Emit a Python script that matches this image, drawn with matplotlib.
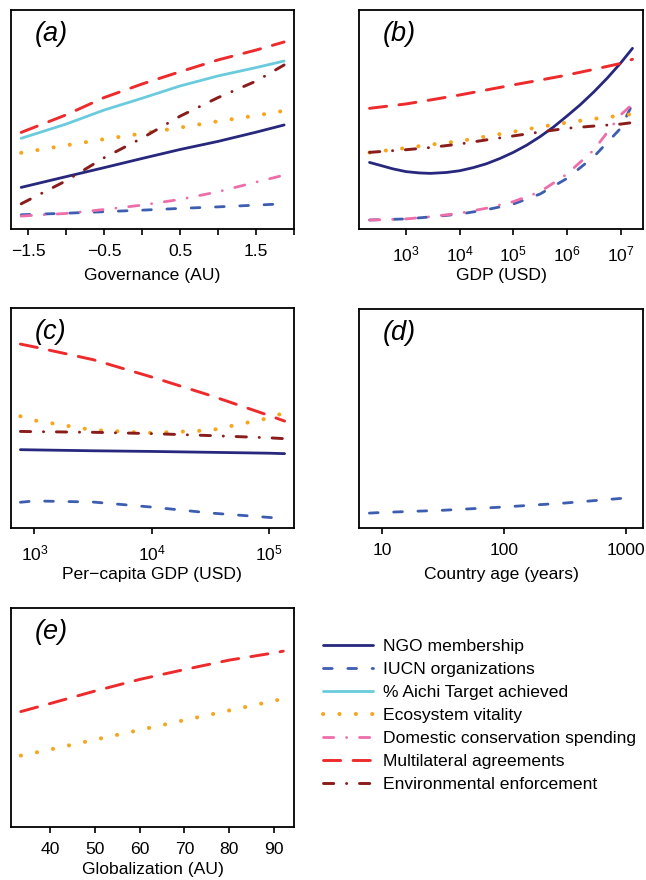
import numpy as np
import matplotlib
matplotlib.use("Agg")
import matplotlib.pyplot as plt
from matplotlib.lines import Line2D

plt.rcParams.update({
    "font.family": ["Liberation Sans", "DejaVu Sans"],
    "font.size": 12.6,
    "mathtext.fontset": "custom",
    "mathtext.rm": "Liberation Sans",
    "mathtext.it": "Liberation Sans:italic",
    "axes.linewidth": 1.3,
    "lines.scale_dashes": False,  # dash patterns below are in points
})

# ---- data (relative effect, arbitrary units 0-100) ----
# (a) governance
gov_x = [-1.59, -1.0, -0.5, 0.0, 0.5, 1.0, 1.5, 1.87]
gov_ngo = [19.0, 23.9, 28.0, 32.2, 36.3, 40.0, 44.2, 47.5]
gov_iucn = [6.5, 7.2, 7.9, 8.6, 9.4, 10.1, 10.9, 11.5]
gov_aichi = [41.4, 47.9, 54.3, 59.7, 65.3, 69.9, 73.7, 76.7]
gov_eco = [34.8, 38.2, 41.0, 43.6, 46.3, 49.2, 51.8, 54.0]
gov_dom = [5.9, 7.1, 8.9, 10.9, 13.5, 17.0, 21.4, 24.6]
gov_multi = [44.1, 52.1, 60.0, 66.2, 71.8, 77.2, 81.7, 85.4]
gov_enf = [11.5, 22.0, 32.5, 41.5, 51.5, 60.0, 67.5, 74.9]

# (b) GDP, log10 USD
gdp_x = [2.32, 3.0, 3.45, 4.0, 4.5, 5.0, 5.5, 6.0, 6.5, 7.0, 7.22]
gdp_iucn = [4.1, 4.6, 5.5, 6.8, 8.8, 11.4, 16.0, 23.1, 33.0, 46.0, 57.1]
gdp_eco = [34.9, 37.0, 38.5, 40.1, 42.3, 44.4, 46.6, 48.6, 50.3, 51.8, 52.5]
gdp_dom = [4.1, 4.6, 5.6, 7.2, 9.5, 12.5, 17.0, 25.1, 36.1, 52.1, 57.0]
gdp_multi = [55.1, 57.1, 58.9, 61.2, 63.5, 65.8, 68.0, 70.3, 72.9, 75.6, 77.5]
gdp_enf = [35.0, 36.2, 37.2, 38.8, 40.7, 42.5, 44.3, 46.0, 47.0, 47.9, 48.6]
ngo_gdp_x = [2.32, 2.5, 2.75, 3.0, 3.25, 3.45, 3.75, 4.0, 4.25, 4.5, 4.75, 5.0,
             5.25, 5.5, 5.75, 6.0, 6.25, 6.5, 6.75, 7.0, 7.22]
ngo_gdp = [30.4, 29.2, 27.5, 26.2, 25.6, 25.4, 25.8, 26.6, 28.0, 29.8, 32.2, 35.0,
           38.3, 42.2, 46.6, 51.6, 56.8, 62.6, 68.9, 75.8, 82.5]

# (c) per-capita GDP, log10 USD
pc_x = [2.88, 3.0, 3.5, 4.0, 4.5, 5.0, 5.13]
pc_ngo = [35.6, 35.5, 35.1, 34.8, 34.4, 34.0, 33.8]
pc_iucn = [11.7, 12.3, 11.8, 9.5, 6.8, 4.8, 4.3]
pc_eco = [50.8, 48.9, 44.5, 43.2, 44.4, 50.0, 52.5]
pc_multi = [83.6, 82.3, 76.5, 68.6, 60.2, 51.1, 48.6]
pc_enf = [43.9, 43.8, 43.5, 42.9, 42.0, 41.0, 40.6]

# (d) country age, log10 years
age_x = [0.895, 1.0, 1.5, 2.0, 2.5, 3.0, 3.04]
age_iucn = [6.8, 7.1, 8.1, 9.6, 11.4, 13.7, 14.1]

# (e) globalization
glob_x = [33.4, 40, 50, 60, 70, 80, 90, 92.1]
glob_eco = [32.6, 35.4, 39.9, 44.3, 48.8, 53.2, 57.6, 58.6]
glob_multi = [52.7, 56.4, 62.1, 67.4, 71.9, 76.2, 79.5, 80.3]

labels = ["NGO membership", "IUCN organizations", "% Aichi Target achieved",
          "Ecosystem vitality", "Domestic conservation spending",
          "Multilateral agreements", "Environmental enforcement"]

# ---- styles ----
sty = {
    "ngo": dict(color="#27287d", lw=2.0, ls="-", solid_capstyle="round"),
    "iucn": dict(color="#3d5db0", lw=2.0, ls=(0, (6.3, 11.2)), dash_capstyle="round"),
    "aichi": dict(color="#6acbdc", lw=2.0, ls="-", solid_capstyle="round"),
    "eco": dict(color="#f8a51c", lw=2.9, ls=(0, (0.1, 11.7)), dash_capstyle="round"),
    "dom": dict(color="#ee6eaa", lw=2.0, ls=(0, (7.4, 9.2, 0.1, 9.2)), dash_capstyle="round"),
    "multi": dict(color="#ed2a2c", lw=2.1, ls=(0, (12.4, 8.9)), dash_capstyle="round"),
    "enf": dict(color="#8a1c1c", lw=2.1, ls=(0, (7.4, 9.2, 0.1, 9.2)), dash_capstyle="round"),
}

W, H = 646, 880
fig = plt.figure(figsize=(W / 100, H / 100), dpi=100)


def make_ax(l, r, t, b):
    ax = fig.add_axes([l / W, 1 - b / H, (r - l) / W, (b - t) / H])
    ax.set_ylim(0, 100)
    ax.set_yticks([])
    ax.tick_params(axis="x", length=4, width=1.2, pad=7, labelsize=12.6)
    return ax, b - t


def finish(ax, h, letter, xlabel, off=39):
    ax.text(0.085, 0.95, letter, transform=ax.transAxes, fontsize=19.5,
            style="italic", va="top", ha="left")
    ax.set_xlabel(xlabel, fontsize=12.6)
    ax.xaxis.set_label_coords(0.5, -off / h)


def log_ticks(ax, exps, math=True):
    ax.set_xscale("log")
    ax.minorticks_off()
    ax.set_xticks([10.0 ** e for e in exps])
    if math:
        ax.set_xticklabels([r"$\mathregular{10^{%d}}$" % e for e in exps])
    else:
        ax.set_xticklabels([str(int(10 ** e)) for e in exps])


def lg(v):
    return [10.0 ** x for x in v]


# (a)
ax, h = make_ax(11, 294, 10, 229)
for key, y in [("ngo", gov_ngo), ("iucn", gov_iucn), ("aichi", gov_aichi),
               ("eco", gov_eco), ("dom", gov_dom), ("multi", gov_multi),
               ("enf", gov_enf)]:
    ax.plot(gov_x, y, **sty[key])
ax.set_xlim(-1.724, 2.0)
ax.set_xticks(np.arange(-1.5, 2.01, 0.5))
ax.set_xticklabels(["\u22121.5", "", "\u22120.5", "", "0.5", "", "1.5", ""])
finish(ax, h, "(a)", "Governance (AU)")

# (b)
ax, h = make_ax(359, 643, 10, 229)
ax.plot(lg(ngo_gdp_x), ngo_gdp, **sty["ngo"])
for key, y in [("iucn", gdp_iucn), ("eco", gdp_eco),
               ("dom", gdp_dom), ("multi", gdp_multi), ("enf", gdp_enf)]:
    ax.plot(lg(gdp_x), y, **sty[key])
log_ticks(ax, [3, 4, 5, 6, 7])
ax.set_xlim(10 ** 2.124, 10 ** 7.416)
finish(ax, h, "(b)", "GDP (USD)")

# (c)
ax, h = make_ax(11, 294, 308, 528)
for key, y in [("ngo", pc_ngo), ("iucn", pc_iucn), ("eco", pc_eco),
               ("multi", pc_multi), ("enf", pc_enf)]:
    ax.plot(lg(pc_x), y, **sty[key])
log_ticks(ax, [3, 4, 5])
ax.set_xlim(10 ** 2.80, 10 ** 5.21)
finish(ax, h, "(c)", "Per\u2212capita GDP (USD)")

# (d)
ax, h = make_ax(359, 643, 309, 528)
ax.plot(lg(age_x), age_iucn, **sty["iucn"])
log_ticks(ax, [1, 2, 3], math=False)
ax.set_xlim(10 ** 0.81, 10 ** 3.14)
finish(ax, h, "(d)", "Country age (years)")

# (e)
ax, h = make_ax(11, 294, 608, 827)
ax.plot(glob_x, glob_multi, **sty["multi"])
ax.plot(glob_x, glob_eco, **sty["eco"])
ax.set_xlim(31.2, 94.5)
ax.set_xticks([40, 50, 60, 70, 80, 90])
finish(ax, h, "(e)", "Globalization (AU)", off=35)

# legend
handles = [Line2D([], [], **sty[k]) for k in
           ["ngo", "iucn", "aichi", "eco", "dom", "multi", "enf"]]
fig.legend(handles, labels, loc="upper left", bbox_to_anchor=(323 / W, 1 - 639 / H),
           frameon=False, borderpad=0, borderaxespad=0, handlelength=2.86,
           handletextpad=0.57, labelspacing=0.44, fontsize=12.6)

fig.savefig("out.png", dpi=100)
